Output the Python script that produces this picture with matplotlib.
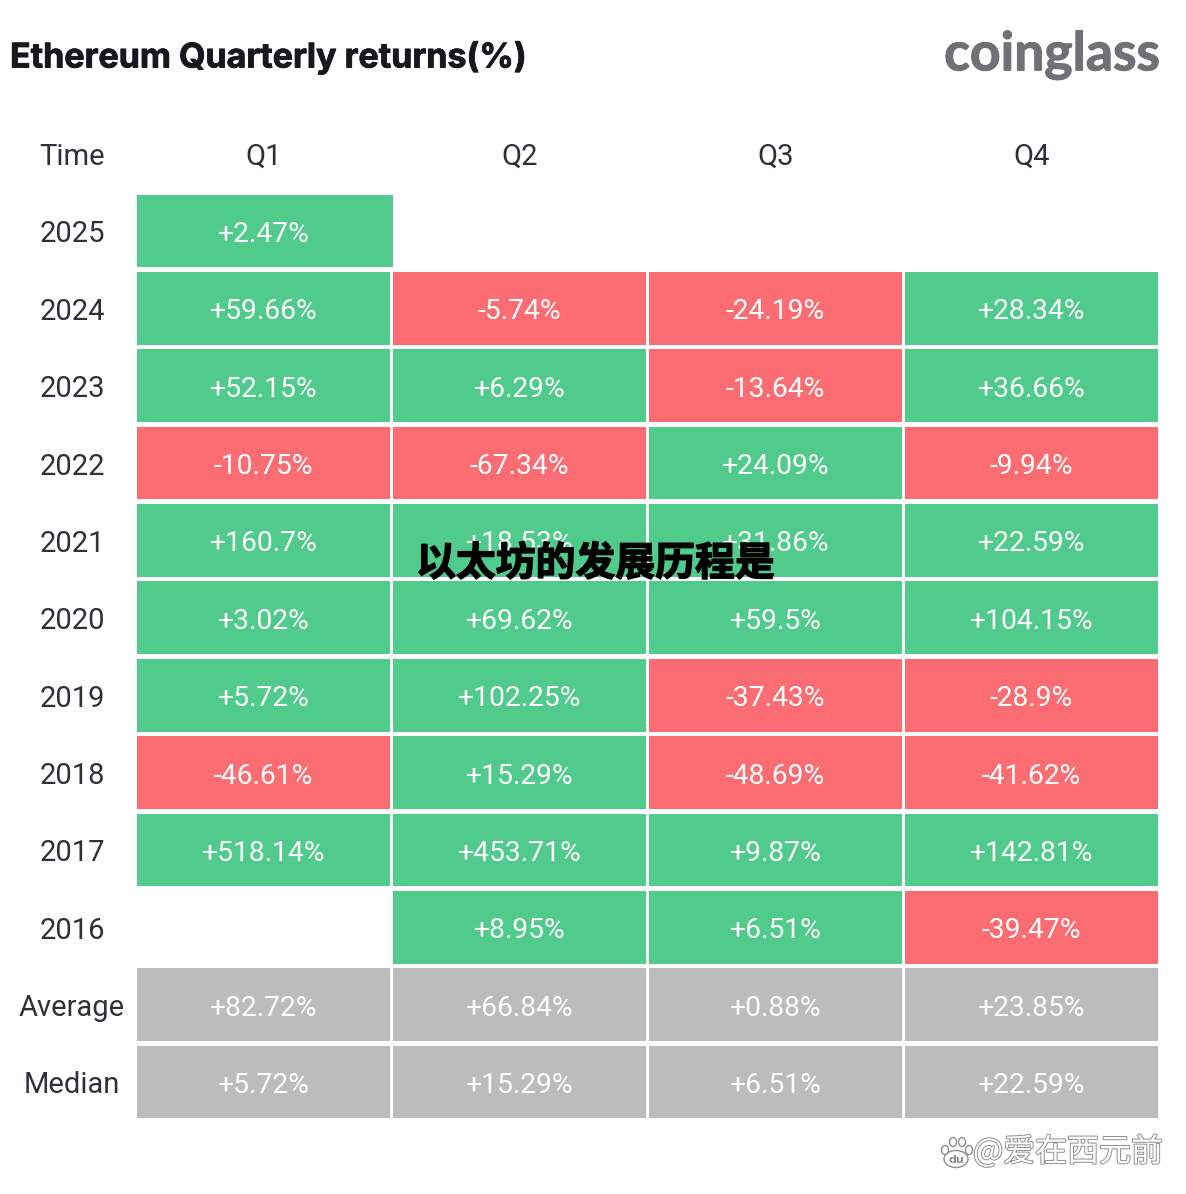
import matplotlib
matplotlib.use('Agg')
from matplotlib import pyplot as plt
from matplotlib.patches import Ellipse
import matplotlib.patheffects as pe

years = ['2025', '2024', '2023', '2022', '2021', '2020', '2019', '2018', '2017', '2016']
quarters = ['Q1', 'Q2', 'Q3', 'Q4']
returns = [
    [2.47, None, None, None],
    [59.66, -5.74, -24.19, 28.34],
    [52.15, 6.29, -13.64, 36.66],
    [-10.75, -67.34, 24.09, -9.94],
    [160.7, 18.53, 31.86, 22.59],
    [3.02, 69.62, 59.5, 104.15],
    [5.72, 102.25, -37.43, -28.9],
    [-46.61, 15.29, -48.69, -41.62],
    [518.14, 453.71, 9.87, 142.81],
    [None, 8.95, 6.51, -39.47],
]
summary_names = ['Average', 'Median']
summary = [
    [82.72, 66.84, 0.88, 23.85],
    [5.72, 15.29, 6.51, 22.59],
]

GREEN = '#50CB8C'
RED = '#FB6D73'
GREY = '#BCBCBC'
DARK = '#2E3136'
W, H = 1186, 1194

fig = plt.figure(figsize=(W / 100, H / 100), dpi=100, facecolor='white')

# grid axes: one unit = one cell
x0, x1, y0, y1 = 135.5, 1159.5, 192.3, 1120.7
ax = fig.add_axes([x0 / W, 1 - y1 / H, (x1 - x0) / W, (y1 - y0) / H])
ax.set_xlim(-0.5, 3.5)
ax.set_ylim(11.5, -0.5)
ax.axis('off')


def cell(row, col, val, color):
    # the 2025 Q1 cell runs right up to the next column in the original
    width = 1.0 if (row == 0 and col == 0) else 0.99
    left = col - 0.494
    ax.bar(left, 0.94, width=width, bottom=row - 0.47, align='edge', color=color, linewidth=0)
    ax.text(col, row + 0.045, f'{val:+g}%', color='white', fontsize=20.3, family='Roboto',
            ha='center', va='center')


for r, row in enumerate(returns):
    for c, val in enumerate(row):
        if val is None:
            continue
        cell(r, c, val, GREEN if val >= 0 else RED)
for r, row in enumerate(summary):
    for c, val in enumerate(row):
        cell(r + len(returns), c, val, GREY)

row_labels = years + summary_names
for r, name in enumerate(row_labels):
    ax.text(-0.748, r + 0.045, name, color=DARK, fontsize=21, family='Roboto',
            ha='center', va='center', clip_on=False)
ax.text(-0.748, -0.955, 'Time', color=DARK, fontsize=21, family='Roboto', ha='center', va='center', clip_on=False)
for c, q in enumerate(quarters):
    ax.text(c, -0.955, q, color=DARK, fontsize=21, family='Roboto', ha='center', va='center', clip_on=False)

# overlay in pixel coords for title, logo and watermarks
ov = fig.add_axes([0, 0, 1, 1], facecolor='none')
ov.set_xlim(0, W)
ov.set_ylim(H, 0)
ov.axis('off')

ov.text(10, 58, 'Ethereum Quarterly returns(%)', fontsize=24.5, family='Inter', weight='bold',
        color='#16181C', ha='left', va='center',
        path_effects=[pe.withStroke(linewidth=0.6, foreground='#16181C')])
ov.text(1160, 55, 'coinglass', fontsize=38.5, family='Lato', weight='bold', color='#6F7275',
        ha='right', va='center', path_effects=[pe.withStroke(linewidth=0.8, foreground='#6F7275')])

ov.text(416, 564, '以太坊的发展历程是', fontsize=28.7, family='Noto Sans CJK SC', weight='black',
        color='black', ha='left', va='center', zorder=5,
        path_effects=[pe.withStroke(linewidth=1, foreground='black')])

# baidu style watermark
outline = [pe.withStroke(linewidth=1.4, foreground='#8E8E8E')]
ov.text(973, 1152, '@爱在西元前', fontsize=23, family=['Noto Sans CJK SC', 'DejaVu Sans'], color='white',
        ha='left', va='center', path_effects=outline)
for cx, cy, w, h in [(956, 1159, 24, 17), (945, 1150, 7, 9), (953, 1142, 7, 9), (962, 1142, 7, 9), (969, 1150, 7, 9)]:
    ov.add_patch(Ellipse((cx, cy), w, h, facecolor='white', edgecolor='#8E8E8E', linewidth=1))
ov.text(956, 1160, 'du', fontsize=8, color='#8E8E8E', ha='center', va='center', weight='bold')

fig.savefig('out.png', dpi=100)
